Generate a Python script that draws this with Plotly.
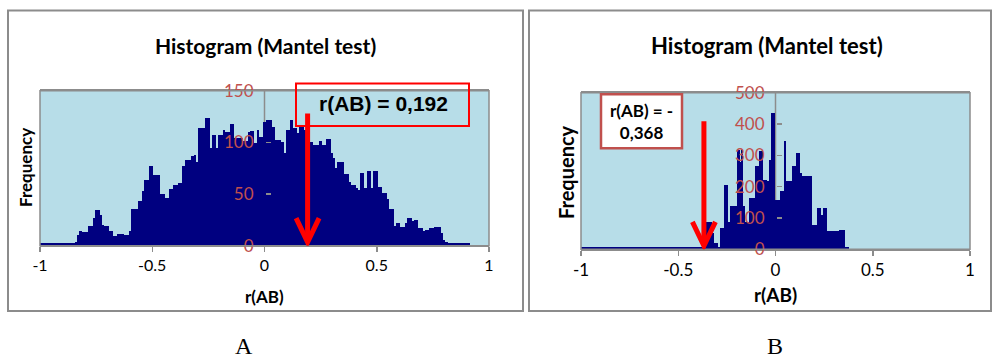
import plotly.graph_objects as go

# ---------------- data ----------------
bin_width = 0.01
# Panel A: bin centres start at -1.00, step 0.01
a_start = -1.00
a_counts = [
    # -1.00 .. -0.85 (flat baseline)
    3, 3, 3, 3, 3, 3, 3, 3, 3, 3, 3, 3, 3, 3, 3, 3,
    # -0.84 ..
    4, 10, 14, 13, 13, 13, 19, 19, 27, 35, 35, 30, 20, 19, 19, 14,
    14, 9, 9, 11, 11, 11, 10, 10, 14, 36, 36, 36, 43, 43, 53, 64,
    64, 77, 77, 68, 68, 68, 50, 50, 46, 46, 55, 55, 59, 59, 61, 61,
    77, 83, 83, 83, 87, 88, 81, 114, 114, 114, 124, 124, 95, 107, 107, 95,
    107, 107, 112, 110, 110, 118, 118, 104, 104, 104, 104, 101, 101, 110, 111, 111,
    99, 112, 105, 105,
    # 0.00 ..
    120, 122, 122, 122, 115, 102, 102, 102, 100, 90, 112, 112, 122, 114, 114, 109,
    115, 115, 112, 112, 100, 100, 97, 97, 97, 101, 97, 97, 103, 103, 90, 85,
    75, 81, 81, 81, 69, 69, 62, 59, 59, 56, 54, 70, 70, 56, 72, 72,
    56, 72, 72, 57, 57, 51, 51, 45, 36, 36, 19, 22, 22, 18, 18, 22,
    27, 27, 24, 25, 25, 17, 17, 14, 15, 15, 17, 17, 18, 18, 18, 12,
    6, 4, 3,
    # 0.83 .. 0.91 (flat baseline)
    3, 3, 3, 3, 3, 3, 3, 3, 3,
]

# Panel B: bin centres start at -1.00, step 0.01
b_start = -1.00
b_counts = [
    # -1.00 .. -0.36 (flat baseline)
    8, 8, 8, 8, 8, 8, 8, 8, 8, 8, 8, 8, 8, 8, 8, 8,
    8, 8, 8, 8, 8, 8, 8, 8, 8, 8, 8, 8, 8, 8, 8, 8,
    8, 8, 8, 8, 8, 8, 8, 8, 8, 8, 8, 8, 8, 8, 8, 8,
    8, 8, 8, 8, 8, 8, 8, 8, 8, 8, 8, 8, 8, 8, 8, 8,
    8,
    # -0.35 ..
    88, 88, 88, 51, 19, 19, 8, 67, 67, 206, 206, 88, 137, 137, 137, 137,
    318, 280, 318, 137, 88, 88, 163, 163, 163, 265, 265, 313, 313, 222, 222, 217,
    286, 436, 436,
    # 0.00 ..
    158, 158, 158, 185, 185, 345, 217, 217, 217, 265, 265, 308, 308, 243, 233, 233,
    233, 233, 233, 78, 78, 78, 131, 131, 110, 131, 131, 57, 57, 57, 57, 57,
    57, 62, 62, 62, 8, 6,
]

a_x = [round(a_start + i * bin_width, 3) for i in range(len(a_counts))]
b_x = [round(b_start + i * bin_width, 3) for i in range(len(b_counts))]

x_ticks = [-1, -0.5, 0, 0.5, 1]
x_tick_text = ["-1", "-0.5", "0", "0.5", "1"]
a_y_ticks = [0, 50, 100, 150]
b_y_ticks = [0, 100, 200, 300, 400, 500]
a_y_range = [0, 150]
b_y_range = [0, 500]

r_a = 0.192
r_b = -0.368
arrow_tail_a = 128   # frequency level where arrow starts
arrow_tail_b = 409

# ---------------- layout helpers ----------------
W, H = 992, 358


def px(x):
    return x / W


def py(y):
    return 1 - y / H


NAVY = "#000080"
BG = "#B7DDE8"
GRAY = "#8C8C8C"
TICKRED = "#C0504D"
FONT = "Lato, 'Open Sans', sans-serif"

fig = go.Figure()
fig.add_trace(go.Bar(x=a_x, y=a_counts, width=bin_width * 1.08,
                     marker=dict(color=NAVY, line=dict(width=0)),
                     xaxis="x", yaxis="y", showlegend=False, hoverinfo="skip"))
fig.add_trace(go.Bar(x=b_x, y=b_counts, width=bin_width * 1.08,
                     marker=dict(color=NAVY, line=dict(width=0)),
                     xaxis="x2", yaxis="y2", showlegend=False, hoverinfo="skip"))

# plot areas in pixels (left, right, bottom, top)
A_BOX = (40, 489, 245.7, 90.7)
B_BOX = (581, 970, 249.3, 92.7)

xa_dom = [px(A_BOX[0]), px(A_BOX[1])]
ya_dom = [py(A_BOX[2]), py(A_BOX[3])]
xb_dom = [px(B_BOX[0]), px(B_BOX[1])]
yb_dom = [py(B_BOX[2]), py(B_BOX[3])]


def xaxis(dom, anchor, fs):
    return dict(domain=dom, range=[-1, 1], anchor=anchor, automargin=False,
                tickvals=x_ticks, ticktext=x_tick_text,
                ticks="outside", ticklen=5, tickcolor=GRAY, tickwidth=1.5,
                showline=True, linecolor=GRAY, linewidth=1.5, mirror=True,
                showgrid=False, zeroline=False,
                tickfont=dict(family=FONT, size=fs, color="#000000"))


def yaxis(dom, rng, ticks, pos):
    return dict(domain=dom, range=rng, anchor="free", position=pos, automargin=False,
                tickvals=ticks, ticks="inside", ticklen=5, tickcolor=GRAY,
                tickwidth=1.5, showline=False,
                showgrid=False, zeroline=False, ticklabelstandoff=11,
                tickfont=dict(family=FONT, size=17, color=TICKRED))


fig.update_layout(
    width=W, height=H, margin=dict(l=0, r=0, t=0, b=0, autoexpand=False),
    paper_bgcolor="white", plot_bgcolor=BG,
    bargap=0, hovermode=False,
    xaxis=xaxis(xa_dom, "y", 16),
    yaxis=yaxis(ya_dom, a_y_range, a_y_ticks, px((A_BOX[0] + A_BOX[1]) / 2)),
    xaxis2=xaxis(xb_dom, "y2", 17),
    yaxis2=yaxis(yb_dom, b_y_range, b_y_ticks, px((B_BOX[0] + B_BOX[1]) / 2)),
)


def arrow_shapes(r, tail, box, yr, xref, yref):
    # scales: pixels per data unit
    sx = (box[1] - box[0]) / 2.0
    sy = (box[2] - box[3]) / (yr[1] - yr[0])
    tip = 3.5 / sy
    half_w = 11.5 / sx
    head_h = 24 / sy
    line = dict(type="line", xref=xref, yref=yref, x0=r, x1=r, y0=tail, y1=tip + 2 / sy,
                line=dict(color="#FF0000", width=5))
    head = dict(type="path", xref=xref, yref=yref,
                path=f"M {r - half_w},{tip + head_h} L {r},{tip} L {r + half_w},{tip + head_h}",
                line=dict(color="#FF0000", width=5))
    return [line, head]


shapes = [
    # panel frames
    dict(type="rect", xref="paper", yref="paper", x0=px(8), x1=px(523), y0=py(311), y1=py(10.5),
         line=dict(color=GRAY, width=2), layer="below"),
    dict(type="rect", xref="paper", yref="paper", x0=px(529), x1=px(991), y0=py(311), y1=py(10.5),
         line=dict(color=GRAY, width=2), layer="below"),
    # vertical axis lines at r = 0, behind the bars
    dict(type="line", xref="x", yref="y domain", x0=0, x1=0, y0=0, y1=1,
         line=dict(color=GRAY, width=1.5), layer="below"),
    dict(type="line", xref="x2", yref="y2 domain", x0=0, x1=0, y0=0, y1=1,
         line=dict(color=GRAY, width=1.5), layer="below"),
    # plot-area borders
    dict(type="rect", xref="x domain", yref="y domain", x0=0, x1=1, y0=0, y1=1,
         line=dict(color=GRAY, width=1.5)),
    dict(type="rect", xref="x2 domain", yref="y2 domain", x0=0, x1=1, y0=0, y1=1,
         line=dict(color=GRAY, width=1.5)),
    # red box A (transparent)
    dict(type="rect", xref="paper", yref="paper", x0=px(296), x1=px(469), y0=py(126), y1=py(83.5),
         line=dict(color="#FF0000", width=2)),
    # red box B (white fill)
    dict(type="rect", xref="paper", yref="paper", x0=px(601), x1=px(682), y0=py(148.3), y1=py(94.3),
         line=dict(color=TICKRED, width=2.5), fillcolor="white"),
]
shapes += arrow_shapes(r_a, arrow_tail_a, A_BOX, a_y_range, "x", "y")
shapes += arrow_shapes(r_b, arrow_tail_b, B_BOX, b_y_range, "x2", "y2")
fig.update_layout(shapes=shapes)

ann = []


def label(text, x, y, size, family=FONT, angle=0):
    ann.append(dict(text=text, x=px(x), y=py(y), xref="paper", yref="paper",
                    showarrow=False, font=dict(family=family, size=size, color="#000000"),
                    textangle=angle, xanchor="center", yanchor="middle", align="center"))


label("<b>Histogram (Mantel test)</b>", 265.7, 45, 21)
label("<b>Histogram (Mantel test)</b>", 766.7, 45, 22)
label("<b>r(AB)</b>", 264.5, 296, 17)
label("<b>r(AB)</b>", 775.5, 294, 19)
label("<b>Frequency</b>", 26, 168, 17, angle=-90)
label("<b>Frequency</b>", 566, 172, 20, angle=-90)
label("<b>r(AB) = 0,192</b>", 383, 103, 21, family="Liberation Sans, Arial, sans-serif")
label("<b>r(AB) = -</b><br><b>0,368</b>", 641.7, 122, 17)
label("A", 244, 346, 24, family="Liberation Serif, serif")
label("B", 775, 346, 24, family="Liberation Serif, serif")
fig.update_layout(annotations=ann)

fig.write_html("out.html", config={"displayModeBar": False, "staticPlot": True},
               post_script="document.body.style.margin='0';")
